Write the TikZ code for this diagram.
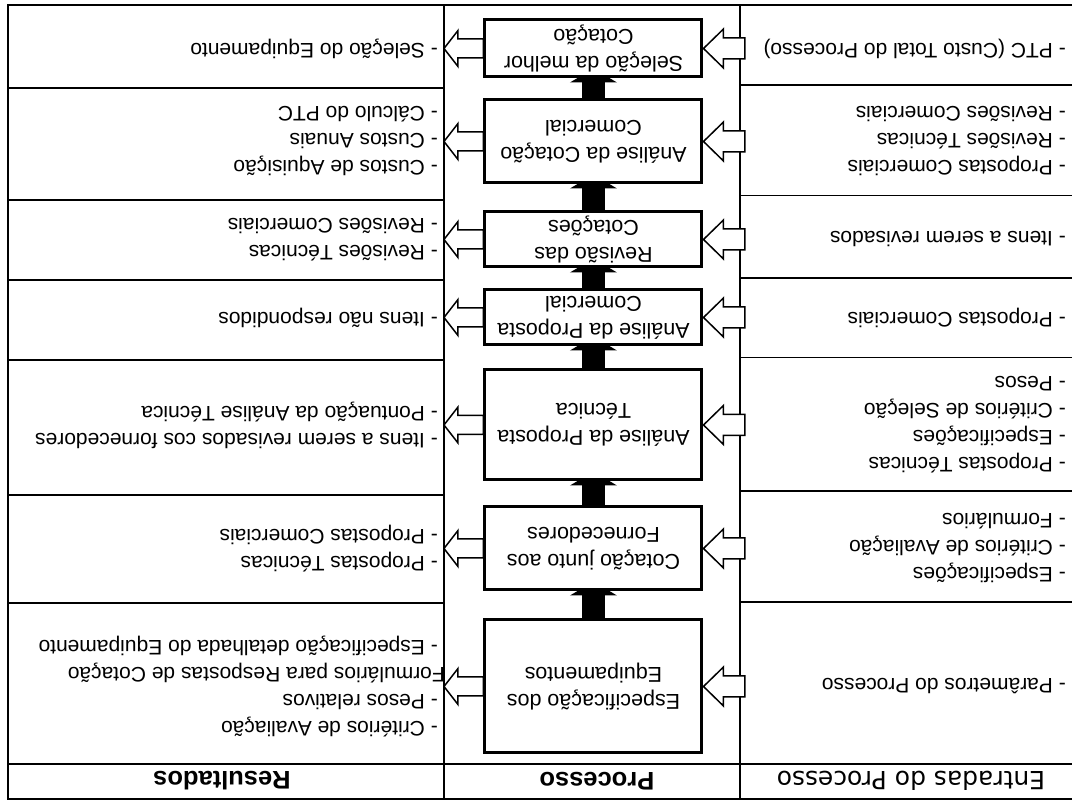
\documentclass[tikz,border=0pt]{standalone}
\usepackage{fontspec}
\setmainfont{Liberation Sans}
\newfontfamily\headfont{DejaVu Sans}
\usetikzlibrary{calc}

\tikzset{
  rule/.style={line width=1.6pt},
  heavyrule/.style={line width=2.4pt},
  stage/.style={draw, line width=3pt, fill=white, minimum width=217pt,
    inner sep=0pt, align=center, font=\fontsize{21.5}{27}\selectfont},
  items/.style={anchor=west, inner sep=0pt, align=left,
    font=\fontsize{21}{27}\selectfont},
  colhead/.style={inner sep=0pt, font=\bfseries\fontsize{25.5}{27}\selectfont},
  inhead/.style={inner sep=0pt, font=\headfont\fontsize{25}{27}\selectfont},
  hollow/.style={draw, fill=white, line width=1.5pt, line join=miter},
  flow/.style={fill=black},
}

% right-pointing block arrow: #1 tail, #2 tip, #3 shaft half-width,
% #4 head half-width, #5 head length
\newcommand\blockarrow[5]{%
  \draw[hollow] ($(#1)+(0,-#3)$) -- ($(#2)+(-#5,-#3)$) -- ($(#2)+(-#5,-#4)$)
    -- (#2) -- ($(#2)+(-#5,#4)$) -- ($(#2)+(-#5,#3)$) -- ($(#1)+(0,#3)$) -- cycle;}
% input arrow from the inputs column into a stage
\newcommand\inputarrow[1]{%
  \path ($(#1.west -| entryedge)+(-5,0)$) coordinate (tail) (#1.west) coordinate (tip);
  \blockarrow{tail}{tip}{10.5}{19.5}{20}}
% output arrow from a stage into the results column
\newcommand\outputarrow[1]{%
  \path (#1.east) coordinate (tail) (#1.east -| resultedge) coordinate (tip);
  \blockarrow{tail}{tip}{9.5}{18}{14}}
% solid arrow between consecutive stages, its tip tucked under the next box
\newcommand\flowarrow[2]{%
  \fill[flow] ($(#1.south)+(-11.5,0)$) rectangle ($(#2.north)+(11.5,-4)$);
  \fill[flow] ($(#2.north)+(-23.5,-4)$) -- ($(#2.north)+(23.5,-4)$)
    -- ($(#2.north)+(0,10)$) -- cycle;}

\begin{document}
\begin{tikzpicture}[x=1pt, y=-1pt]
\begin{scope}[rotate=180, transform shape]
\useasboundingbox (0,0) rectangle (1072,805);

\coordinate (entryedge) at (332,41);
\coordinate (resultedge) at (628,41);
\coordinate (entrytext) at (6,41);
\coordinate (resulttext) at (634,41);

% table rules
\draw[heavyrule] (0,6) -- (1064,6) -- (1064,800) -- (0,800);
\draw[line width=2.2pt] (0,41) -- (1064,41);
\draw[rule] (entryedge |- 0,6) -- (entryedge |- 0,800);
\draw[rule] (resultedge |- 0,6) -- (resultedge |- 0,800);
\foreach \y in {203,314,447.5,527,609.5,720}
  \draw[rule] (0,\y) -- (entryedge |- 0,\y);
\foreach \y in {202,310,445,525,605,717}
  \draw[rule] (resultedge |- 0,\y) -- (1064,\y);

% column headings
\node[inhead] (hin) at (161,24) {Entradas do Processo};
\node[colhead] (hproc) at (475,24) {Processo};
\node[colhead] (hout) at (850,24) {Resultados};

% process stages (placed first as coordinates, drawn after the flow arrows)
\path (478.5,118.5) coordinate (c7)
      (478.5,256.5) coordinate (c6)
      (478.5,380)   coordinate (c5)
      (478.5,487.5) coordinate (c4)
      (478.5,565.5) coordinate (c3)
      (478.5,663.5) coordinate (c2)
      (478.5,756.5) coordinate (c1);

\path node[stage, minimum height=133pt, draw=none, fill=none] (s7) at (c7) {}
      node[stage, minimum height=83pt,  draw=none, fill=none] (s6) at (c6) {}
      node[stage, minimum height=110pt, draw=none, fill=none] (s5) at (c5) {}
      node[stage, minimum height=55pt,  draw=none, fill=none] (s4) at (c4) {}
      node[stage, minimum height=55pt,  draw=none, fill=none] (s3) at (c3) {}
      node[stage, minimum height=83pt,  draw=none, fill=none] (s2) at (c2) {}
      node[stage, minimum height=57pt,  draw=none, fill=none] (s1) at (c1) {};

\flowarrow{s7}{s6}
\flowarrow{s6}{s5}
\flowarrow{s5}{s4}
\flowarrow{s4}{s3}
\flowarrow{s3}{s2}
\flowarrow{s2}{s1}

\node[stage, minimum height=133pt] (box7) at (c7) {Especificação dos\\Equipamentos};
\node[stage, minimum height=83pt]  (box6) at (c6) {Cotação junto aos\\Fornecedores};
\node[stage, minimum height=110pt] (box5) at (c5) {Análise da Proposta\\Técnica};
\node[stage, minimum height=55pt]  (box4) at (c4) {Análise da Proposta\\Comercial};
\node[stage, minimum height=55pt]  (box3) at (c3) {Revisão das\\Cotações};
\node[stage, minimum height=83pt]  (box2) at (c2) {Análise da Cotação\\Comercial};
\node[stage, minimum height=57pt]  (box1) at (c1) {Seleção da melhor\\Cotação};

% inputs and outputs of each stage
\foreach \b in {box1,box2,box3,box4,box5,box6,box7} {
  \inputarrow{\b}
  \outputarrow{\b}
}

% process inputs
\node[items] (in1) at (box1 -| entrytext) {- PTC (Custo Total do Processo)};
\node[items] (in2) at (box2 -| entrytext) {- Propostas Comerciais\\- Revisões Técnicas\\- Revisões Comerciais};
\node[items] (in3) at (box3 -| entrytext) {- Itens a serem revisados};
\node[items] (in4) at (box4 -| entrytext) {- Propostas Comerciais};
\node[items] (in5) at (box5 -| entrytext) {- Propostas Técnicas\\- Especificações\\- Critérios de Seleção\\- Pesos};
\node[items] (in6) at (box6 -| entrytext) {- Especificações\\- Critérios de Avaliação\\- Formulários};
\node[items] (in7) at (box7 -| entrytext) {- Parâmetros do Processo};

% process results
\node[items] (out1) at (box1 -| resulttext) {- Seleção do Equipamento};
\node[items] (out2) at (box2 -| resulttext) {- Custos de Aquisição\\- Custos Anuais\\- Cálculo do PTC};
\node[items] (out3) at (box3 -| resulttext) {- Revisões Técnicas\\- Revisões Comerciais};
\node[items] (out4) at (box4 -| resulttext) {- Itens não respondidos};
\node[items] (out5) at (box5 -| resulttext) {- Itens a serem revisados cos fornecedores\\- Pontuação da Análise Técnica};
\node[items] (out6) at (box6 -| resulttext) {- Propostas Técnicas\\- Propostas Comerciais};
\node[items] (out7) at (box7 -| resulttext) {- Critérios de Avaliação\\- Pesos relativos\\\hspace*{-7pt}Formulários para Respostas de Cotação\\- Especificação detalhada do Equipamento};
\end{scope}
\end{tikzpicture}
\end{document}
